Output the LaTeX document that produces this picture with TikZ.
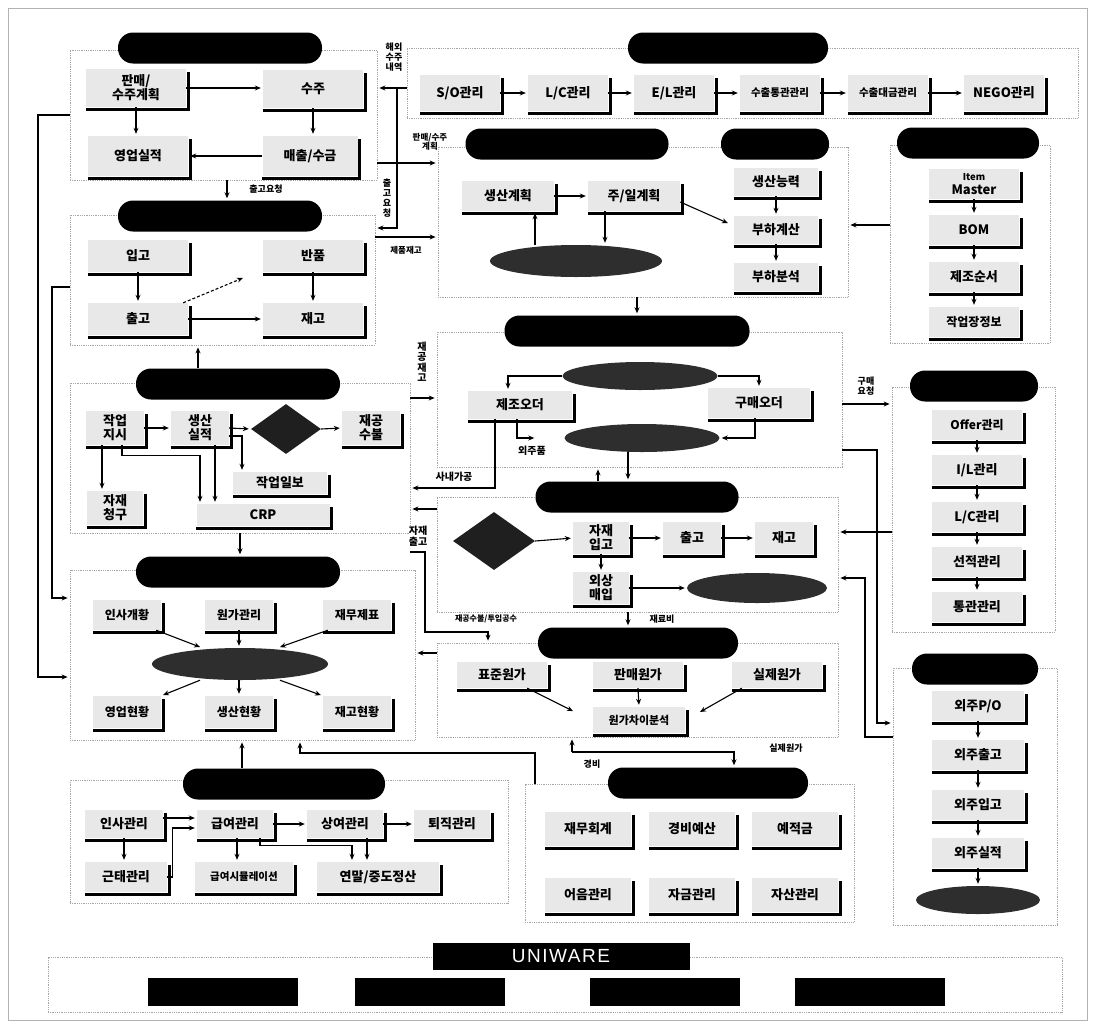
\documentclass[tikz,border=0pt]{standalone}
\usepackage{fontspec}
\setmainfont{Noto Sans CJK KR}
\newfontfamily\uwfont{Liberation Sans}[LetterSpace=8]
\usetikzlibrary{arrows.meta,shapes.geometric,calc,fit}
\tikzset{
  every node/.style={inner sep=0pt},
  modrect/.style={draw=gray!70, densely dotted, line width=0.8pt, inner sep=0pt},
  pill/.style={fill=black, rounded corners=15pt, minimum height=31pt},
  bx/.style={fill=gray!18, align=center, font=\bfseries\fontsize{13}{14}\selectfont},
  shadowline/.style={line width=2.6pt, line cap=rect},
  ell/.style={ellipse, fill=black!82},
  dia/.style={diamond, fill=black!88},
  arr/.style={-{Stealth[length=6pt,width=5pt]}, line width=1.1pt, shorten >=2pt},
  lbl/.style={font=\bfseries\fontsize{9}{10}\selectfont, align=center},
  blk/.style={fill=black, minimum width=150pt, minimum height=28pt}
}
\newcommand{\sbx}[6]{%
  \node[bx, minimum width=#4pt, minimum height=#5pt] (#1) at (#2,#3) {#6};
  \draw[shadowline] ([shift={(2pt,-4pt)}]#1.north east) -- ([shift={(2pt,-2pt)}]#1.south east) -- ([shift={(1pt,-2pt)}]#1.south west);
}
\begin{document}
\begin{tikzpicture}[x=1pt,y=-1pt]
\useasboundingbox (0,0) rectangle (1094,1028);
\draw[gray!60, line width=0.6pt] (8,8) rectangle (1087,1020);

% ---------- module frames ----------
\node[modrect, fit={(70,50) (377,180)}] (RS) {};
\node[modrect, fit={(407,48) (1078,118)}] (RT) {};
\node[modrect, fit={(438,147) (848,297)}] (RP) {};
\node[modrect, fit={(890,145) (1050,343)}] (RE) {};
\node[modrect, fit={(70,215) (375,345)}] (RI) {};
\node[modrect, fit={(70,383) (410,533)}] (RW) {};
\node[modrect, fit={(437,332) (842,467)}] (RMR) {};
\node[modrect, fit={(892,387) (1055,632)}] (RU) {};
\node[modrect, fit={(437,497) (838,612)}] (RR) {};
\node[modrect, fit={(70,570) (415,740)}] (RM) {};
\node[modrect, fit={(437,643) (838,737)}] (RC) {};
\node[modrect, fit={(893,668) (1057,925)}] (RSC) {};
\node[modrect, fit={(70,780) (508,903)}] (RH) {};
\node[modrect, fit={(525,784) (854,922)}] (RA) {};
\node[modrect, fit={(48,957) (1062,1012)}] (RUW) {};

% ---------- pills ----------
\node[pill, minimum width=204pt] (PS) at (220,48) {};
\node[pill, minimum width=200pt] (PT) at (728,48) {};
\node[pill, minimum width=203pt] (PP1) at (567,144) {};
\node[pill, minimum width=108pt] (PP2) at (775,144) {};
\node[pill, minimum width=142pt] (PE) at (968,143) {};
\node[pill, minimum width=204pt] (PI) at (220,216) {};
\node[pill, minimum width=204pt] (PW) at (238,384) {};
\node[pill, minimum width=245pt] (PMR) at (627,331) {};
\node[pill, minimum width=128pt] (PU) at (974,386) {};
\node[pill, minimum width=203pt] (PR) at (637,497) {};
\node[pill, minimum width=204pt] (PM) at (238,572) {};
\node[pill, minimum width=200pt] (PC) at (638,643) {};
\node[pill, minimum width=126pt] (PSC) at (975,669) {};
\node[pill, minimum width=202pt] (PH) at (284,784) {};
\node[pill, minimum width=200pt] (PA) at (708,783) {};

% ---------- sales ----------
\sbx{s1}{136}{88}{100}{38}{판매/\\수주계획}
\sbx{s2}{313}{89}{100}{38}{수주}
\sbx{s3}{138}{156}{100}{40}{영업실적}
\sbx{s4}{310}{156}{95}{40}{매출/수금}
\draw[arr] (s1.east) -- (s1.east -| s2.west);
\draw[arr] (s2.south) -- (s2.south |- s4.north);
\draw[arr] (s4.west) -- (s4.west -| s3.east);
\draw[arr] (s1.south) -- (s1.south |- s3.north);

% ---------- trade ----------
\sbx{t1}{460}{93}{80}{36}{S/O관리}
\sbx{t2}{568}{93}{80}{36}{L/C관리}
\sbx{t3}{674}{93}{80}{36}{E/L관리}
\sbx{t4}{780}{93}{80}{36}{\fontsize{10.5}{11}\selectfont 수출통관관리}
\sbx{t5}{888}{93}{80}{36}{\fontsize{10.5}{11}\selectfont 수출대금관리}
\sbx{t6}{1004}{93}{80}{36}{NEGO관리}
\foreach \a/\b in {t1/t2,t2/t3,t3/t4,t4/t5,t5/t6}{\draw[arr] (\a.east) -- (\b.west);}

% ---------- production planning ----------
\sbx{p1}{508}{196}{92}{30}{생산계획}
\sbx{p2}{634}{196}{92}{30}{주/일계획}
\node[ell, minimum width=172pt, minimum height=32pt] (pe) at (576,261) {};
\sbx{p3}{776}{182}{84}{28}{생산능력}
\sbx{p4}{776}{230}{84}{28}{부하계산}
\sbx{p5}{776}{277}{84}{28}{부하분석}
\draw[arr] (p1.east) -- (p2.west);
\draw[arr] ([xshift=-41pt]pe.north) -- ([xshift=-41pt]pe.north |- p1.south);
\draw[arr] ([xshift=-29pt]p2.south) -- ([xshift=-29pt]p2.south |- pe.north);
\draw[arr] ([yshift=-6pt]p2.east) -- ([xshift=-4pt,yshift=6pt]p4.west);
\draw[arr] (p3.south) -- (p4.north);
\draw[arr] (p4.south) -- (p5.north);

% ---------- engineering ----------
\sbx{e1}{974}{184}{90}{30}{\fontsize{9.5}{10}\selectfont Item\\Master}
\sbx{e2}{974}{230}{90}{30}{BOM}
\sbx{e3}{974}{277}{90}{30}{제조순서}
\sbx{e4}{974}{322}{90}{30}{\fontsize{12}{13}\selectfont 작업장정보}
\draw[arr] (e1.south) -- (e2.north);
\draw[arr] (e2.south) -- (e3.north);
\draw[arr] (e3.south) -- (e4.north);
\coordinate (cE) at (0,225);
\draw[arr] (RE.west |- cE) -- (RP.east |- cE);

% ---------- inventory ----------
\sbx{i1}{138}{256}{100}{32}{입고}
\sbx{i2}{313}{256}{100}{32}{반품}
\sbx{i3}{138}{319}{100}{32}{출고}
\sbx{i4}{313}{319}{100}{32}{재고}
\draw[arr] (i1.south) -- (i3.north);
\draw[arr] (i2.south) -- (i4.north);
\draw[arr] (i3.east) -- (i4.west);
\draw[arr, densely dashed] ([xshift=-5pt]i3.north east) -- ([xshift=-18pt,yshift=-5pt]i2.south west);

% ---------- shop floor ----------
\sbx{w1}{115}{428}{58}{34}{작업\\지시}
\sbx{w2}{200}{428}{58}{34}{생산\\실적}
\node[dia, minimum width=70pt, minimum height=50pt] (wd) at (286,429) {};
\sbx{w3}{371}{428}{58}{34}{재공\\수불}
\sbx{w4}{280}{483}{94}{22}{작업일보}
\sbx{w5}{263}{515}{133}{22}{CRP}
\sbx{w6}{115}{508}{56}{34}{자재\\청구}
\draw[arr] (w1.east) -- (w2.west);
\draw[arr] (w2.east) -- (wd.west);
\draw[arr] (wd.east) -- (w3.west);
\draw[arr] ([yshift=-8pt]w2.east) -| ([xshift=-38pt]w4.north);
\draw[arr] ([xshift=-13pt]w1.south) -- ([xshift=-13pt]w1.south |- w6.north);
\draw[arr] ([xshift=7pt]w1.south) -- ++(0,10) -| ([xshift=-63pt]w5.north);
\draw[arr] ([xshift=15pt]w2.south) -- ([xshift=15pt]w2.south |- w5.north);
\draw[arr] ([xshift=-40pt]PW.north) -- ([xshift=-40pt]PW.north |- RI.south);
\draw[arr] (RW.south) -- (RW.south |- PM.north);

% ---------- MRP ----------
\node[ell, minimum width=155pt, minimum height=28pt] (me1) at (640,376) {};
\sbx{o1}{520}{405}{104}{28}{제조오더}
\sbx{o2}{759}{403}{102}{30}{구매오더}
\node[ell, minimum width=155pt, minimum height=28pt] (me2) at (642,438) {};
\node[lbl, font=\bfseries\fontsize{10}{11}\selectfont] (lbOJ) at (532,451) {외주품};
\draw[arr] (me1.west) -| ([xshift=-12pt]o1.north);
\draw[arr] (me1.east) -| (o2.north);
\draw[arr] ([xshift=-3pt]o1.south) |- ([xshift=-28pt]me2.west);
\draw[arr] ([xshift=-4pt]o2.south) |- (me2.east);
\coordinate (cS) at (0,488);
\draw[arr] ([xshift=-25pt]o1.south) |- (RW.east |- cS);
\node[lbl, font=\bfseries\fontsize{10}{11}\selectfont] (lbSN) at (454,477) {사내가공};
\draw[arr] ([xshift=-14pt]me2.south) -- ([xshift=-14pt]me2.south |- PR.north);
\draw[arr] ([xshift=-39pt]PR.north) -- ([xshift=-39pt]PR.north |- RMR.south);
\coordinate (cPM) at (637,0);
\draw[arr] (cPM |- RP.south) -- (cPM |- PMR.north);
\node[lbl, font=\bfseries\fontsize{10}{10.5}\selectfont] (lbJG) at (422,362) {재\\공\\재\\고};
\coordinate (cZ) at (0,398);
\draw[arr] (RW.east |- cZ) -- (RMR.west |- cZ);
\node[lbl] (lbGM) at (866,386) {구매\\요청};
\coordinate (cK) at (0,404);
\draw[arr] (RMR.east |- cK) -- (RU.west |- cK);

% ---------- purchasing ----------
\sbx{u1}{977}{425}{90}{30}{\fontsize{12}{13}\selectfont Offer관리}
\sbx{u2}{977}{470}{90}{30}{I/L관리}
\sbx{u3}{977}{517}{90}{30}{L/C관리}
\sbx{u4}{977}{562}{90}{30}{선적관리}
\sbx{u5}{977}{607}{90}{30}{통관관리}
\draw[arr] (u1.south) -- (u2.north);
\draw[arr] (u2.south) -- (u3.north);
\draw[arr] (u3.south) -- (u4.north);
\draw[arr] (u4.south) -- (u5.north);

% ---------- receiving ----------
\node[dia, minimum width=82pt, minimum height=58pt] (rd) at (494,541) {};
\sbx{r1}{601}{538}{56}{32}{자재\\입고}
\sbx{r2}{692}{538}{58}{32}{출고}
\sbx{r3}{784}{538}{58}{32}{재고}
\sbx{r4}{601}{588}{56}{32}{외상\\매입}
\node[ell, minimum width=140pt, minimum height=30pt] (re) at (757,588) {};
\draw[arr] (rd.east) -- (r1.west);
\draw[arr] (r1.east) -- (r2.west);
\draw[arr] (r2.east) -- (r3.west);
\draw[arr] (r1.south) -- (r4.north);
\draw[arr] (r4.east) -- (re.west);
\coordinate (cR) at (0,509);
\draw[arr] (RR.west |- cR) -- (RW.east |- cR);
\node[lbl, font=\bfseries\fontsize{10}{11}\selectfont] (lbJC) at (418,536) {자재\\출고};
\coordinate (cW1) at (425,552);
\coordinate (cW2) at (425,632);
\coordinate (cW3) at (488,632);
\draw[arr] (RW.east |- cW1) -- (cW1) -- (cW2) -- (cW3) -- (cW3 |- RC.north);
\node[lbl, font=\bfseries\fontsize{8}{9}\selectfont] (lbJS) at (486,619) {재공수불/투입공수};
\coordinate (cMat) at (628,0);
\draw[arr] (cMat |- RR.south) -- (cMat |- PC.north);
\node[lbl] (lbJR) at (662,619) {재료비};

% ---------- cost ----------
\sbx{c1}{502}{675}{90}{26}{표준원가}
\sbx{c2}{638}{675}{90}{26}{판매원가}
\sbx{c3}{777}{675}{90}{26}{실제원가}
\sbx{c4}{639}{720}{92}{26}{\fontsize{11}{12}\selectfont 원가차이분석}
\draw[arr] ([xshift=-20pt]c1.south east) -- ([xshift=-18pt,yshift=8pt]c4.west);
\draw[arr] (c2.south) -- (c4.north);
\draw[arr] ([xshift=10pt]c3.south west) -- ([xshift=13pt,yshift=7pt]c4.east);
\coordinate (cC) at (0,653);
\draw[arr] (RC.west |- cC) -- (RM.east |- cC);

% ---------- management ----------
\sbx{m1}{127}{615}{68}{30}{\fontsize{12}{13}\selectfont 인사개황}
\sbx{m2}{239}{615}{68}{30}{\fontsize{12}{13}\selectfont 원가관리}
\sbx{m3}{357}{615}{68}{30}{\fontsize{12}{13}\selectfont 재무제표}
\node[ell, minimum width=176pt, minimum height=32pt] (mE) at (240,664) {};
\sbx{m4}{127}{712}{68}{32}{\fontsize{12}{13}\selectfont 영업현황}
\sbx{m5}{239}{712}{68}{32}{\fontsize{12}{13}\selectfont 생산현황}
\sbx{m6}{357}{712}{68}{32}{\fontsize{12}{13}\selectfont 재고현황}
\draw[arr] ([xshift=-5pt]m1.south east) -- ([xshift=-38pt]mE.north);
\draw[arr] (m2.south) -- (m2.south |- mE.north);
\draw[arr] ([xshift=5pt]m3.south west) -- ([xshift=38pt]mE.north);
\draw[arr] ([xshift=-40pt]mE.south) -- (m4.north east);
\draw[arr] (mE.south) -- (mE.south -| m5.north) -- (m5.north);
\draw[arr] ([xshift=40pt]mE.south) -- (m6.north west);
\coordinate (cL1) at (38,115);
\coordinate (cL2) at (38,677);
\draw[arr] (RS.west |- cL1) -- (cL1) -- (cL2) -- (RM.west |- cL2);
\coordinate (cL3) at (52,287);
\coordinate (cL4) at (52,598);
\draw[arr] (RI.west |- cL3) -- (cL3) -- (cL4) -- (RM.west |- cL4);

% ---------- subcontract ----------
\sbx{k1}{978}{706}{92}{30}{외주P/O}
\sbx{k2}{978}{755}{92}{30}{외주출고}
\sbx{k3}{978}{805}{92}{30}{외주입고}
\sbx{k4}{978}{853}{92}{30}{외주실적}
\node[ell, minimum width=124pt, minimum height=28pt] (kE) at (978,900) {};
\draw[arr] (k1.south) -- (k2.north);
\draw[arr] (k2.south) -- (k3.north);
\draw[arr] (k3.south) -- (k4.north);
\draw[arr] (k4.south) -- (kE.north);
\coordinate (cX1) at (877,450);
\coordinate (cX2) at (877,723);
\draw[arr] (RMR.east |- cX1) -- (cX1) -- (cX2) -- (RSC.west |- cX2);
\coordinate (cY) at (0,532);
\draw[arr] (RU.west |- cY) -- (RR.east |- cY);
\coordinate (cV1) at (865,578);
\coordinate (cV2) at (865,737);
\draw[arr] (RSC.west |- cV2) -- (cV2) -- (cV1) -- (RR.east |- cV1);

% ---------- HR ----------
\sbx{h1}{124}{824}{78}{28}{인사관리}
\sbx{h2}{235}{824}{76}{28}{급여관리}
\sbx{h3}{345}{824}{76}{28}{상여관리}
\sbx{h4}{452}{824}{76}{28}{퇴직관리}
\sbx{h5}{126}{877}{82}{30}{근태관리}
\sbx{h6}{244}{877}{98}{30}{\fontsize{10.5}{11}\selectfont 급여시뮬레이션}
\sbx{h7}{378}{877}{122}{30}{연말/중도정산}
\draw[arr] ([yshift=6pt]h1.east) -- ([yshift=6pt]h2.west);
\draw[arr] (h5.east) -- ++(5,0) |- ([yshift=-4pt]h2.west);
\draw[arr] (h1.south) -- (h1.south |- h5.north);
\draw[arr] (h2.east) -- (h3.west);
\draw[arr] (h3.east) -- (h4.west);
\draw[arr] ([xshift=2pt]h2.south) -- ([xshift=2pt]h2.south |- h6.north);
\draw[arr] ([xshift=25pt]h2.south) -- ++(0,7) -| ([xshift=-26pt]h7.north);
\draw[arr] ([xshift=22pt]h3.south) -- ([xshift=22pt]h3.south |- h7.north);
\draw[arr] ([xshift=-42pt]PH.north) -- ([xshift=-42pt]PH.north |- RM.south);
\coordinate (cA1) at (535,753);
\coordinate (cA2) at (300,753);
\draw[arr] (RA.north -| cA1) -- (cA1) -- (cA2) -- (cA2 |- RM.south);

% ---------- accounting ----------
\sbx{a1}{588}{829}{86}{34}{재무회계}
\sbx{a2}{692}{829}{86}{34}{경비예산}
\sbx{a3}{795}{829}{86}{34}{예적금}
\sbx{a4}{588}{895}{86}{34}{어음관리}
\sbx{a5}{692}{895}{86}{34}{자금관리}
\sbx{a6}{795}{895}{86}{34}{자산관리}
\coordinate (cG1) at (572,752);
\coordinate (cG2) at (734,752);
\draw[arr] (cG1) -- (cG1 |- RC.south);
\draw[arr] (cG1) -- (cG2) -- (cG2 |- PA.north);
\node[lbl] (lbGB) at (592,764) {경비};
\node[lbl] (lbSJ) at (786,748) {실제원가};

% ---------- sales/trade connectors ----------
\coordinate (cT) at (397,88);
\coordinate (cT2) at (397,228);
\draw[arr] (RT.west |- cT) -- (RS.east |- cT);
\draw[arr] (cT) -- (cT2) -- (RI.east |- cT2);
\node[lbl] (lbHW) at (394,57) {해외\\수주\\내역};
\coordinate (cSP) at (0,163);
\draw[arr] (RS.east |- cSP) -- (RP.west |- cSP);
\node[lbl, font=\bfseries\fontsize{8.5}{9.5}\selectfont] (lbPS) at (430,142) {판매/수주\\계획};
\node[lbl] (lbCY) at (387,198) {출\\고\\요\\청};
\coordinate (cIP) at (0,237);
\draw[arr] (RI.east |- cIP) -- (RP.west |- cIP);
\node[lbl, font=\bfseries\fontsize{8.5}{9.5}\selectfont] (lbJP) at (406,250) {제품재고};
\coordinate (cO) at (227,0);
\draw[arr] (cO |- RS.south) -- (cO |- PI.north);
\node[lbl] (lbCY2) at (266,189) {출고요청};

% ---------- UNIWARE ----------
\node[fill=black, text=white, minimum width=257pt, minimum height=27pt, font=\uwfont\fontsize{19}{19}\selectfont] (UW) at (561,956) {UNIWARE};
\node[blk] (b1) at (223,992) {};
\node[blk] (b2) at (430,992) {};
\node[blk] (b3) at (665,992) {};
\node[blk] (b4) at (870,992) {};
\end{tikzpicture}
\end{document}
